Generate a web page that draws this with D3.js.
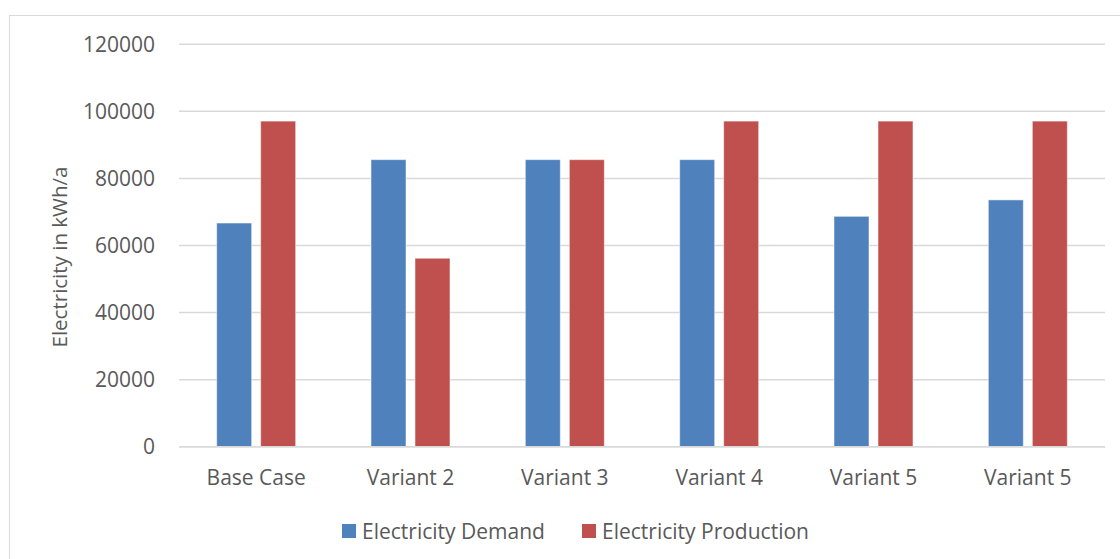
<!DOCTYPE html>
<html>
<head>
<meta charset="utf-8">
<script src="https://cdn.jsdelivr.net/npm/d3@7"></script>
<style>
  html, body { margin: 0; padding: 0; background: #fff; }
  svg { display: block; }
  text { font-family: "Open Sans", "Liberation Sans", sans-serif; fill: #595959; }
</style>
</head>
<body>
<svg id="chart" width="1120" height="559"></svg>
<script>
// Annual electricity per scenario (kWh/a)
const categories = ["Base Case", "Variant 2", "Variant 3", "Variant 4", "Variant 5", "Variant 5"];
const demand     = [66700, 85600, 85600, 85600, 68700, 73600];
const production = [97100, 56200, 85600, 97100, 97100, 97100];
const seriesNames = ["Electricity Demand", "Electricity Production"];
const seriesColors = ["#4F81BD", "#C0504D"];
const yTicks = [0, 20000, 40000, 60000, 80000, 100000, 120000];

const svg = d3.select("#chart");
const W = 1120, H = 559;
const margin = { left: 179, right: 15, top: 44.3, bottom: 112.3 };
const x0 = margin.left, x1 = W - margin.right;
const yTop = margin.top, yBot = H - margin.bottom;
const fontSize = 21;

// chart area frame (runs off the right and bottom edges)
svg.append("rect")
  .attr("x", 9.5).attr("y", 15.5)
  .attr("width", 1130).attr("height", 560)
  .attr("fill", "#fff").attr("stroke", "#D9D9D9").attr("stroke-width", 1);

const x = d3.scaleBand().domain(d3.range(categories.length)).range([x0, x1]).paddingInner(0).paddingOuter(0);
const y = d3.scaleLinear().domain([0, 120000]).range([yBot, yTop]);

// gridlines
svg.append("g").selectAll("line").data(yTicks).join("line")
  .attr("x1", x0).attr("x2", x1)
  .attr("y1", d => y(d)).attr("y2", d => y(d))
  .attr("stroke", "#D9D9D9").attr("stroke-width", 1.5);

// y tick labels
const yAxis = d3.axisLeft(y).tickValues(yTicks).tickSize(0).tickPadding(24).tickFormat(d3.format("d"));
const gy = svg.append("g").attr("transform", `translate(${x0},0)`).call(yAxis);
gy.select(".domain").remove();
gy.selectAll("text").attr("font-size", fontSize).attr("fill", "#595959")
  .style("font-family", '"Open Sans", sans-serif');

// bars
const barW = 35, gap = 9;
const series = [demand, production];
series.forEach((vals, s) => {
  svg.append("g").selectAll("rect").data(vals).join("rect")
    .attr("x", (d, i) => x(i) + x.bandwidth() / 2 + (s === 0 ? -gap / 2 - barW : gap / 2))
    .attr("width", barW)
    .attr("y", d => y(d))
    .attr("height", d => yBot - y(d))
    .attr("fill", seriesColors[s])
    .attr("stroke", "#fff").attr("stroke-opacity", 0.5).attr("stroke-width", 1);
});

// baseline over bars
svg.append("line").attr("x1", x0).attr("x2", x1).attr("y1", yBot).attr("y2", yBot)
  .attr("stroke", "#D9D9D9").attr("stroke-width", 1.5);

// x category labels
const xAxis = d3.axisBottom(x).tickSize(0).tickPadding(0).tickFormat(i => categories[i]);
const gx = svg.append("g").attr("transform", `translate(0,${yBot})`).call(xAxis);
gx.select(".domain").remove();
gx.selectAll("text").attr("font-size", fontSize).attr("fill", "#595959").attr("dy", 0).attr("y", 38.5)
  .style("font-family", '"Open Sans", sans-serif');

// y axis title
svg.append("text")
  .attr("transform", `translate(67,257) rotate(-90)`)
  .attr("text-anchor", "middle")
  .attr("font-size", 20.5)
  .text("Electricity in kWh/a");

// legend
const legendX = [342, 582];
const leg = svg.append("g");
seriesNames.forEach((name, s) => {
  leg.append("rect").attr("x", legendX[s]).attr("y", 524).attr("width", 14).attr("height", 14)
    .attr("fill", seriesColors[s]);
  leg.append("text").attr("x", legendX[s] + 20).attr("y", 538.5).attr("font-size", fontSize).text(name);
});
</script>
</body>
</html>
